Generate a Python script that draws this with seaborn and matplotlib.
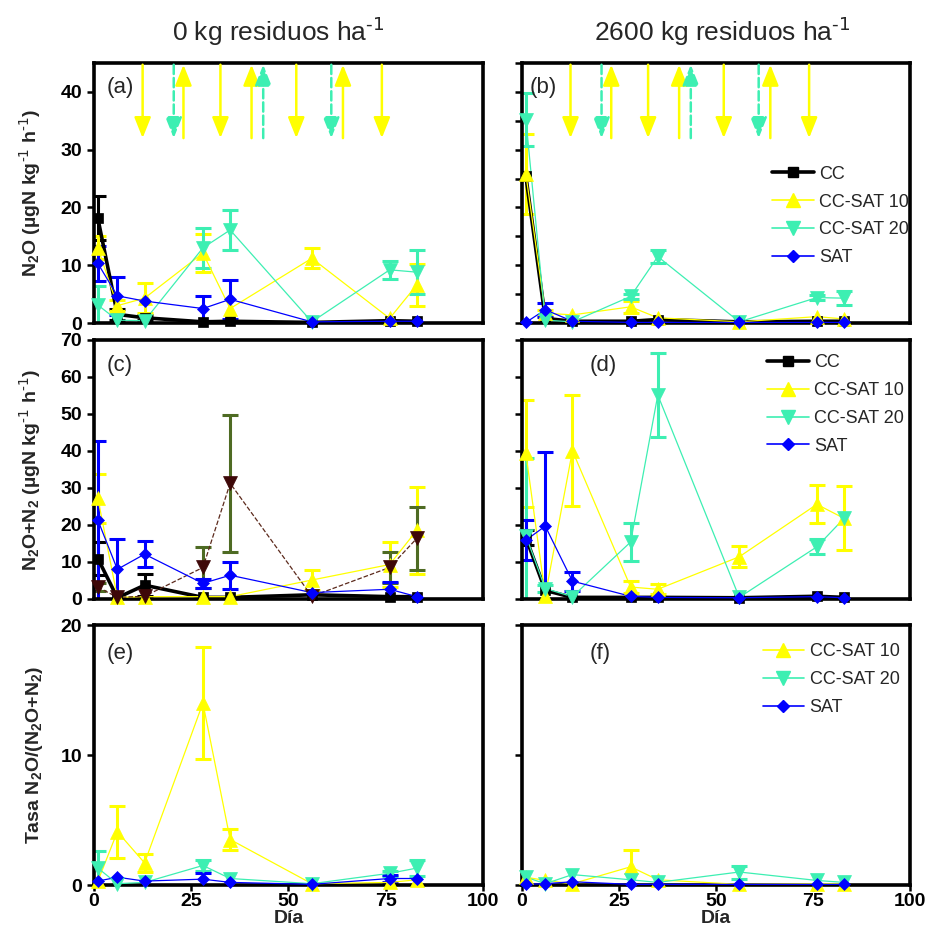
import matplotlib
matplotlib.use("Agg")
import matplotlib.pyplot as plt
import seaborn as sns
import pandas as pd
from matplotlib.lines import Line2D

sns.set_style("white")
plt.rcParams['font.family'] = ['Liberation Sans', 'DejaVu Sans']
plt.rcParams['mathtext.default'] = 'regular'

# ---------------- data ----------------
days = [1, 6, 13, 28, 35, 56, 76, 83]

# (a) N2O, 0 kg residuos
cc_a = [18.1, 1.5, 0.9, 0.2, 0.3, 0.1, 0.4, 0.3]
cc_a_err = [3.8, 1.0, 0.4, 0, 0, 0, 0, 0]
s10_a = [13.0, 3.0, 4.3, 12.1, 2.5, 11.2, 0.8, 6.6]
s10_a_err = [2.0, 1.0, 2.6, 3.3, 0, 1.7, 0, 3.6]
s20_a = [3.1, 0.5, 0.4, 13.0, 16.1, 0.2, 9.2, 8.8]
s20_a_err = [3.3, 0, 0, 3.5, 3.4, 0, 1.5, 3.8]
sat_a = [10.3, 4.7, 3.8, 2.5, 4.1, 0.2, 0.3, 0.3]
sat_a_err = [3.0, 3.3, 0, 2.2, 3.4, 0, 0, 0]

# (b) N2O, 2600 kg residuos
cc_b = [25.4, 0.8, 0.3, 0.3, 0.6, 0.2, 0.3, 0.3]
cc_b_err = [0, 0, 0, 0, 0, 0, 0, 0]
s10_b = [25.8, 1.7, 1.4, 2.8, 0.9, 0.2, 1.1, 0.7]
s10_b_err = [6.9, 0.5, 0, 1.0, 0, 0, 0, 0]
s20_b = [35.2, 0.5, 0.2, 4.6, 11.5, 0.2, 4.4, 4.3]
s20_b_err = [4.6, 0, 0, 0.5, 1.2, 0, 0.5, 1.2]
sat_b = [0.1, 2.3, 0.3, 0.1, 0.1, 0.1, 0.1, 0.1]
sat_b_err = [0, 1.2, 0, 0, 0, 0, 0, 0]

# (c) N2O+N2, 0 kg residuos
cc_c = [10.8, 0.2, 3.6, 0.3, 0.3, 1.0, 0.5, 0.5]
cc_c_err = [4.4, 0, 2.9, 0, 0, 0, 0, 0]
s10_c = [27.1, 0.3, 0.5, 0.5, 0.5, 5.0, 9.2, 18.5]
s10_c_err = [6.6, 0, 0, 0, 0, 2.7, 6.0, 11.8]
s20_c = [3.1, 0.3, 0.6, 8.4, 31.2, 0.6, 8.4, 16.3]
s20_c_err = [1.2, 0, 0, 5.6, 18.5, 0, 4.2, 8.5]
sat_c = [21.2, 7.9, 12.0, 4.1, 6.3, 1.6, 2.5, 0.5]
sat_c_err = [21.5, 8.1, 3.6, 1.2, 3.6, 0, 2.0, 0]

# (d) N2O+N2, 2600 kg residuos
cc_d = [16.5, 2.2, 0.3, 0.3, 0.3, 0.2, 0.6, 0.3]
cc_d_err = [2.0, 0, 0, 0, 0, 0, 0, 0]
s10_d = [39.3, 0.8, 40.0, 3.1, 2.5, 11.3, 25.5, 21.7]
s10_d_err = [14.4, 0, 15.0, 1.7, 1.4, 2.9, 5.1, 8.7]
s20_d = [17.0, 2.7, 0.5, 15.3, 55.1, 0.3, 14.0, 21.7]
s20_d_err = [21.1, 1.0, 0, 5.1, 11.3, 0, 2.0, 0]
sat_d = [15.8, 19.6, 4.7, 0.6, 0.3, 0.2, 0.5, 0.2]
sat_d_err = [5.5, 20.0, 2.6, 0, 0, 0, 0, 0]

# (e) Tasa N2O/(N2O+N2), 0 kg residuos
s10_e = [0.3, 4.1, 1.7, 14.0, 3.5, 0.1, 0.2, 0.4]
s10_e_err = [0, 2.0, 0.7, 4.3, 0.8, 0, 0, 0]
s20_e = [1.3, 0.1, 0.2, 1.5, 0.5, 0.1, 0.9, 1.3]
s20_e_err = [1.3, 0, 0, 0.4, 0, 0, 0.2, 0.6]
sat_e = [0.3, 0.6, 0.3, 0.45, 0.2, 0.05, 0.5, 0.5]
sat_e_err = [0, 0, 0, 0.45, 0, 0, 0.3, 0]

# (f) Tasa N2O/(N2O+N2), 2600 kg residuos
s10_f = [0.6, 0.35, 0.1, 1.4, 0.4, 0.05, 0.1, 0.1]
s10_f_err = [0, 0, 0, 1.3, 0, 0, 0, 0]
s20_f = [0.6, 0.1, 0.8, 0.4, 0.2, 1.0, 0.35, 0.2]
s20_f_err = [0, 0, 0, 0, 0, 0.5, 0, 0]
sat_f = [0.05, 0.1, 0.25, 0.05, 0.05, 0.05, 0.05, 0.05]
sat_f_err = [0, 0, 0, 0, 0, 0, 0, 0]

# event arrows (days)
arrow_yellow_down = [12.5, 32.5, 52, 74]
arrow_yellow_up = [23, 40.5, 64]
arrow_aqua_down = [20.5, 61]
arrow_aqua_up = [43.5]

titles = [r"0 kg residuos ha$^{\text{-1}}$", r"2600 kg residuos ha$^{\text{-1}}$"]
ylabels = [r"N$_2$O (µgN kg$^{\text{-1}}$ h$^{\text{-1}}$)",
           r"N$_2$O+N$_2$ (µgN kg$^{\text{-1}}$ h$^{\text{-1}}$)",
           r"Tasa N$_2$O/(N$_2$O+N$_2$)"]
xlabel = "Día"
panel_labels = ["(a)", "(b)", "(c)", "(d)", "(e)", "(f)"]

# ---------------- styles ----------------
YEL = "#FFFF00"
AQUA = "#3DEFB2"
BLUE = "#0000FF"
BROWN = "#3E0808"
BROWN_LINE = "#5C2A1C"
OLIVE = "#4E6B23"

sty = {
    "CC": dict(color="black", marker="s", ms=7, lw=2.6, ls="-", ecolor="black"),
    "CC-SAT 10": dict(color=YEL, marker="^", ms=9.5, lw=0.9, ls="-", ecolor=YEL),
    "CC-SAT 20": dict(color=AQUA, marker="v", ms=9.5, lw=0.9, ls="-", ecolor=AQUA),
    "SAT": dict(color=BLUE, marker="D", ms=6.5, lw=0.9, ls="-", ecolor=BLUE),
}
sty_c20 = dict(color=BROWN, marker="v", ms=9.5, lw=0.9, ls="--", ecolor=OLIVE,
               linecolor=BROWN_LINE)

panels = [
    [("CC", cc_a, cc_a_err), ("CC-SAT 10", s10_a, s10_a_err),
     ("CC-SAT 20", s20_a, s20_a_err), ("SAT", sat_a, sat_a_err)],
    [("CC", cc_b, cc_b_err), ("CC-SAT 10", s10_b, s10_b_err),
     ("CC-SAT 20", s20_b, s20_b_err), ("SAT", sat_b, sat_b_err)],
    [("CC", cc_c, cc_c_err), ("CC-SAT 10", s10_c, s10_c_err),
     ("CC-SAT 20c", s20_c, s20_c_err), ("SAT", sat_c, sat_c_err)],
    [("CC", cc_d, cc_d_err), ("CC-SAT 10", s10_d, s10_d_err),
     ("CC-SAT 20", s20_d, s20_d_err), ("SAT", sat_d, sat_d_err)],
    [("CC-SAT 10", s10_e, s10_e_err), ("CC-SAT 20", s20_e, s20_e_err),
     ("SAT", sat_e, sat_e_err)],
    [("CC-SAT 10", s10_f, s10_f_err), ("CC-SAT 20", s20_f, s20_f_err),
     ("SAT", sat_f, sat_f_err)],
]

W, H = 928, 942
fig = plt.figure(figsize=(W / 100, H / 100), dpi=100)

col_x = [(94, 483), (522, 910)]
row_y = [(63, 323), (340, 598.5), (625, 885)]
ylims = [45, 70, 20]
yticks_left = [[0, 10, 20, 30, 40], list(range(0, 71, 10)), [0, 10, 20]]
yticks_right = [list(range(0, 46, 5)), list(range(0, 71, 10)), [0, 10, 20]]
label_pos = [(0.033, 0.905), (0.02, 0.905), (0.033, 0.903), (0.175, 0.90),
             (0.033, 0.892), (0.175, 0.89)]

axes = []
for r in range(3):
    for c in range(2):
        x0, x1 = col_x[c]
        y0, y1 = row_y[r]
        ax = fig.add_axes([x0 / W, 1 - y1 / H, (x1 - x0) / W, (y1 - y0) / H])
        axes.append(ax)
        idx = r * 2 + c
        for name, vals, errs in panels[idx]:
            s = sty_c20 if name == "CC-SAT 20c" else sty[name]
            lc = s.get("linecolor", s["color"])
            ex = [d for d, e in zip(days, errs) if e > 0]
            ey = [v for v, e in zip(vals, errs) if e > 0]
            ee = [e for e in errs if e > 0]
            if ex:
                ax.errorbar(ex, ey, yerr=ee, fmt="none", ecolor=s["ecolor"],
                            elinewidth=2.2, capsize=5.5, capthick=2.2, zorder=2)
            df = pd.DataFrame({"Día": days, "v": vals})
            sns.lineplot(data=df, x="Día", y="v", ax=ax, color=lc,
                         linewidth=s["lw"], linestyle=s["ls"], legend=False,
                         errorbar=None, zorder=3)
            ax.plot(days, vals, linestyle="none", marker=s["marker"],
                    markersize=s["ms"], color=s["color"],
                    markeredgecolor=s["color"], markeredgewidth=0.5,
                    zorder=4, clip_on=False)
        ax.set_xlim(0, 100)
        ax.set_ylim(0, ylims[r])
        for sp in ax.spines.values():
            sp.set_linewidth(2.6)
            sp.set_color("black")
        ax.tick_params(axis="y", direction="out", length=5, width=1.8,
                       left=True, colors="black")
        ax.tick_params(axis="x", direction="out", length=4, width=1.8,
                       bottom=True, colors="black", pad=1.5)
        if c == 0:
            yt = yticks_left[r]
            ax.set_yticks(yt)
            ax.set_yticklabels([str(t) for t in yt], fontsize=14,
                               fontweight="bold")
        else:
            ax.set_yticks(yticks_right[r])
            ax.set_yticklabels([])
        if r == 2:
            xt = [0, 25, 50, 75, 100]
            ax.set_xticks(xt)
            ax.set_xticklabels([str(t) for t in xt], fontsize=14,
                               fontweight="bold")
            ax.set_xlabel(xlabel, fontsize=14, fontweight="bold", labelpad=0)
        else:
            ax.set_xticks([])
            ax.set_xlabel("")
        ax.set_ylabel("")
        ax.text(label_pos[idx][0], label_pos[idx][1], panel_labels[idx],
                transform=ax.transAxes, fontsize=16, ha="left", va="center")

        if r == 0:
            y_top, y_bot = 44.7, 32.0
            def arrow(d, up, color, ls):
                tip, tail = (y_top, y_bot) if up else (y_bot, y_top)
                ax.annotate("", xy=(d, tip), xytext=(d, tail),
                            arrowprops=dict(arrowstyle="-|>,head_length=0.9,head_width=0.36",
                                            color=color, lw=1.8, linestyle=ls,
                                            shrinkA=0, shrinkB=0,
                                            mutation_scale=14),
                            zorder=5)
            for d in arrow_yellow_down:
                arrow(d, False, YEL, "-")
            for d in arrow_yellow_up:
                arrow(d, True, YEL, "-")
            for d in arrow_aqua_down:
                arrow(d, False, AQUA, "--")
            for d in arrow_aqua_up:
                arrow(d, True, AQUA, "--")

# legends
def handles(names):
    hs = []
    for n in names:
        s = sty[n]
        hs.append(Line2D([], [], color=s["color"], lw=s["lw"] if n == "CC" else 1.2,
                         marker=s["marker"], markersize=s["ms"],
                         markeredgecolor=s["color"]))
    return hs

leg_specs = [(1, ["CC", "CC-SAT 10", "CC-SAT 20", "SAT"], (0.645, 0.605)),
             (3, ["CC", "CC-SAT 10", "CC-SAT 20", "SAT"], (0.632, 0.945)),
             (5, ["CC-SAT 10", "CC-SAT 20", "SAT"], (0.62, 0.93))]
for idx, names, anchor in leg_specs:
    axes[idx].legend(handles(names), names, loc="upper left",
                     bbox_to_anchor=anchor, frameon=False, fontsize=13,
                     borderpad=0, borderaxespad=0, handlelength=2.3,
                     handletextpad=0.3, labelspacing=0.6)

# titles
fig.text(278 / W, 1 - 32 / H, titles[0], fontsize=19, ha="center", va="center")
fig.text(722 / W, 1 - 32 / H, titles[1], fontsize=19, ha="center", va="center")

# y labels
fig.text(30 / W, 1 - 193 / H, ylabels[0], rotation=90, fontsize=14,
         fontweight="bold", ha="center", va="center")
fig.text(30 / W, 1 - 470 / H, ylabels[1], rotation=90, fontsize=14,
         fontweight="bold", ha="center", va="center")
fig.text(35 / W, 1 - 755 / H, ylabels[2], rotation=90, fontsize=14,
         fontweight="bold", ha="center", va="center")

fig.savefig("out.png", dpi=100)
